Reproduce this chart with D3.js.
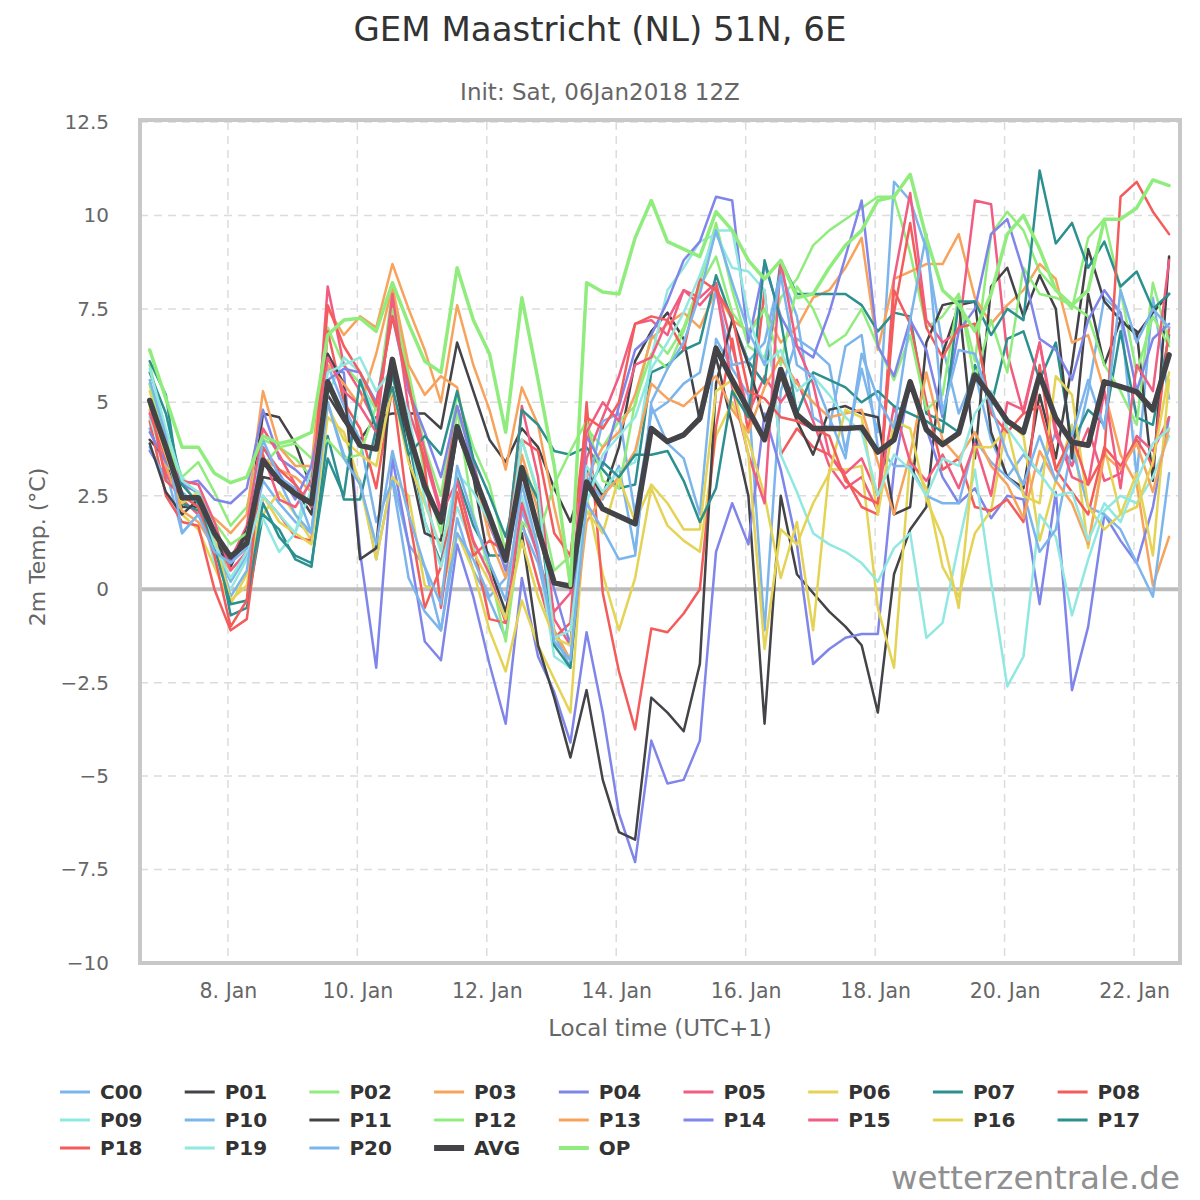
<!DOCTYPE html>
<html>
<head>
<meta charset="utf-8">
<script src="https://cdn.jsdelivr.net/npm/d3@7"></script>
<style>
  body { margin: 0; background: #fff; }
  text { font-family: "DejaVu Sans", sans-serif; }
</style>
</head>
<body>
<svg id="chart" width="1200" height="1200"></svg>
<script>
// GEM ensemble, 2m temperature, one value every 6 hours from 6 Jan 19:00 local
var c00 = [4.3, 3.2, 1.5, 2.0, 1.2, 0.2, 0.9, 2.9, 2.3, 1.8, 1.5, 5.0, 3.6, 2.9, 0.8, 3.0,
  1.2, 0.6, -1.1, 1.9, 0.5, -0.3, -1.3, 2.1, 0.9, -1.2, -2.1, 3.0, 2.4, 3.3, 1.0, 4.9,
  3.9, 3.5, 2.0, 6.7, 5.9, 5.2, -1.1, 5.3, 6.7, 6.4, 6.0, 3.7, 5.9, 4.2, 10.9, 10.4,
  9.1, 6.5, 4.7, 5.8, 4.0, 3.0, 3.6, 3.1, 4.2, 3.3, 5.3, 7.8, 7.4, 3.0, 7.8, 5.1];
var p01 = [4.0, 3.5, 2.2, 2.2, 1.2, 0.6, 1.5, 4.7, 4.6, 3.9, 2.7, 5.2, 4.5, 4.0, 4.6, 4.7,
  4.7, 4.7, 4.3, 6.6, 5.3, 4.0, 3.4, 4.3, 3.8, 2.7, 1.8, 3.2, 2.5, 3.8, 6.1, 6.9,
  7.4, 6.7, 4.5, 6.2, 4.4, 2.5, -3.6, 2.5, 0.4, -0.1, -0.6, -1.0, -1.5, -3.3, 0.4, 1.6,
  2.2, 6.3, 7.6, 7.7, 4.2, 3.0, 2.7, 5.2, 3.5, 6.0, 9.1, 7.7, 7.2, 6.9, 2.9, 8.9];
var p02 = [6.0, 4.2, 3.0, 3.4, 2.6, 1.7, 2.2, 4.0, 3.8, 3.5, 3.0, 7.0, 6.0, 5.5, 4.8, 8.0,
  5.8, 3.8, 2.5, 5.2, 3.8, 2.8, 1.0, 4.0, 2.5, 0.5, 0.9, 4.3, 3.8, 4.5, 4.9, 6.8,
  6.3, 7.0, 8.2, 9.8, 8.0, 6.5, 6.2, 7.8, 8.3, 9.2, 9.6, 9.9, 10.2, 10.5, 10.5, 9.0,
  7.0, 7.3, 7.9, 6.1, 9.5, 10.1, 9.6, 8.5, 8.0, 7.5, 9.4, 9.9, 8.0, 5.8, 7.3, 6.5];
var p03 = [5.5, 3.7, 2.9, 2.2, 1.9, 1.5, 2.0, 5.3, 3.8, 3.3, 3.3, 7.5, 6.8, 7.3, 7.0, 8.7,
  7.5, 6.4, 5.0, 7.6, 6.0, 4.8, 3.2, 5.4, 4.4, 2.2, 0.3, 3.0, 3.8, 4.2, 5.2, 6.7,
  7.1, 7.4, 7.0, 8.0, 7.2, 6.9, 7.5, 6.6, 7.0, 7.8, 8.0, 8.6, 9.4, 6.4, 8.3, 8.5,
  8.7, 8.7, 9.5, 7.8, 7.1, 7.6, 8.0, 8.7, 8.3, 6.6, 6.8, 5.3, 3.6, 2.8, 0.1, 1.4];
var p04 = [3.7, 3.0, 2.8, 2.9, 2.4, 2.3, 2.7, 4.8, 3.5, 3.2, 2.8, 5.9, 5.8, 1.0, -2.1, 3.5,
  1.2, -1.4, -1.9, 1.2, -0.2, -2.0, -3.6, 0.3, -1.8, -2.75, -4.1, -1.15, -3.3, -6.0, -7.3, -4.05,
  -5.2, -5.1, -4.05, 1.0, 2.3, 1.2, 4.7, 3.2, 1.2, -2.0, -1.6, -1.3, -1.2, -1.2, 3.2, 5.6,
  4.3, 3.0, 2.3, 2.7, 1.9, 2.5, 2.4, -0.4, 2.6, -2.7, -1.0, 2.0, 1.3, 0.7, 2.2, 4.6];
var p05 = [5.0, 3.1, 2.4, 2.0, 1.3, 0.8, 1.7, 4.3, 3.6, 2.8, 2.2, 8.1, 6.0, 5.3, 4.4, 7.7,
  5.4, 3.7, 2.1, 4.9, 3.4, 1.7, 0.7, 4.9, 3.0, -0.8, -1.5, 3.5, 4.6, 5.7, 7.1, 7.2,
  6.8, 8.0, 7.8, 8.2, 6.5, 4.7, 5.7, 5.0, 5.6, 4.5, 3.3, 2.7, 3.0, 2.1, 8.3, 10.6,
  7.2, 6.6, 6.9, 10.4, 10.3, 6.3, 4.7, 6.6, 4.1, 3.3, 4.3, 2.9, 3.1, 4.1, 3.7, 4.6];
var p06 = [5.3, 3.9, 2.0, 1.6, 0.6, -0.4, 0.4, 2.0, 2.6, 2.0, 1.3, 4.6, 4.2, 2.8, 0.8, 3.0,
  2.5, 0.1, -0.1, 1.5, 0.5, -1.1, -2.2, -0.3, -1.5, -2.4, -3.3, 2.5, 0.4, -1.1, 0.3, 2.7,
  1.7, 1.3, 1.0, 4.1, 5.0, 4.0, 2.5, 0.3, 1.8, -1.1, 3.2, 3.2, 3.3, -0.5, -2.1, 3.5,
  2.7, 0.6, -0.2, 1.5, 2.1, 4.5, 4.1, 1.3, 2.9, 4.4, 1.1, 3.8, 2.0, 3.1, 0.9, 5.6];
var p07 = [6.1, 5.2, 2.3, 2.1, 1.6, -0.7, -0.5, 2.0, 1.6, 0.8, 0.6, 4.1, 2.4, 2.4, 4.3, 5.7,
  4.0, 1.8, 0.7, 3.0, 1.7, 0.9, 0.9, 4.8, 4.4, 3.7, 3.6, 3.8, 3.2, 2.7, 2.8, 5.8,
  6.0, 6.4, 6.6, 8.4, 7.2, 6.1, 5.5, 8.8, 7.9, 7.9, 7.9, 7.9, 7.6, 6.9, 7.4, 7.3,
  4.7, 4.5, 4.2, 6.0, 4.9, 6.7, 6.9, 5.6, 6.6, 3.9, 4.8, 4.4, 6.9, 4.6, 4.4, 6.8];
var p08 = [4.5, 2.5, 1.8, 1.7, 0.0, -1.1, -0.8, 2.5, 2.0, 1.4, 1.3, 6.9, 5.0, 4.3, 2.7, 5.4,
  2.0, -0.5, 0.6, 2.9, 1.2, -0.8, -0.9, 1.8, 0.2, -1.3, -0.9, 5.0, -0.1, -2.2, -3.75, -1.05,
  -1.15, -0.65, 0.0, 4.35, 6.7, 4.2, 8.0, 3.6, 4.3, 3.8, 3.6, 3.0, 2.2, 2.0, 8.0, 7.1,
  5.0, 3.2, 3.5, 2.2, 2.1, 2.4, 1.8, 6.0, 3.2, 2.6, 2.0, 3.8, 3.3, 4.0, 3.3, 7.0];
var p09 = [4.6, 3.3, 3.0, 2.5, 0.7, 0.0, 0.8, 1.9, 1.0, 1.5, 3.3, 5.2, 6.2, 5.8, 4.4, 6.0,
  4.4, 1.8, 0.6, 2.2, 1.1, 0.7, -0.7, 2.5, 0.9, -1.8, -2.1, 3.3, 2.6, 3.2, 3.4, 6.2,
  8.0, 8.6, 9.3, 9.5, 8.6, 8.5, 8.0, 3.6, 2.6, 1.5, 1.2, 1.0, 0.7, 0.2, 1.1, 1.5,
  -1.3, -0.9, 1.2, 3.2, 0.2, -2.6, -1.8, 2.0, 1.4, -0.7, 0.8, 2.1, 2.5, 2.3, 3.0, 4.1];
var p10 = [3.8, 2.9, 2.6, 2.2, 1.5, -0.2, 0.5, 3.4, 2.9, 2.0, 1.5, 6.0, 4.9, 4.0, 1.8, 2.9,
  0.3, -0.6, -1.1, 1.5, 0.8, -0.2, 0.3, 1.7, 0.7, -1.1, -1.9, 2.6, 4.5, 4.7, 2.0, 4.7,
  5.0, 5.5, 5.8, 8.0, 6.0, 6.1, 6.6, 8.5, 7.3, 4.6, 4.3, 6.5, 6.8, 3.8, 3.3, 3.3,
  2.5, 2.3, 2.3, 4.0, 3.4, 3.0, 2.6, 1.0, 1.6, 3.8, 2.2, 2.0, 1.6, 0.7, -0.2, 3.1];
var p11 = [3.9, 2.6, 2.0, 2.4, 1.3, 0.7, 1.6, 3.0, 2.9, 2.7, 2.0, 6.3, 5.5, 0.8, 1.1, 6.0,
  3.5, 1.5, 1.3, 4.2, 3.0, 0.6, -0.6, 1.5, -1.5, -2.9, -4.5, -2.7, -5.1, -6.5, -6.7, -2.9,
  -3.3, -3.8, -2.0, 5.5, 7.2, 6.0, 4.5, 5.7, 4.5, 3.6, 4.8, 4.9, 4.7, 4.6, 2.0, 2.2,
  6.6, 7.6, 7.7, 3.5, 8.1, 8.6, 7.3, 8.4, 7.5, 3.5, 7.9, 6.0, 7.2, 6.8, 7.4, 7.9];
var p12 = [5.5, 4.0, 2.8, 2.6, 1.8, 1.2, 1.5, 3.3, 3.8, 3.9, 3.5, 4.0, 3.5, 3.6, 4.9, 7.5,
  5.7, 3.0, 1.5, 4.8, 2.0, 0.5, -1.4, 1.8, 1.4, 2.8, 3.7, 4.5, 2.9, 2.7, 5.0, 6.3,
  5.9, 6.9, 8.1, 8.9, 7.4, 6.8, 7.5, 6.0, 8.1, 7.5, 6.5, 6.8, 7.5, 6.5, 5.6, 6.8,
  4.8, 5.2, 7.9, 5.6, 7.2, 5.8, 8.6, 7.9, 7.8, 7.6, 7.3, 6.0, 5.3, 4.4, 8.2, 6.6];
var p13 = [4.8, 3.3, 2.1, 1.8, 1.1, 0.5, 1.0, 3.5, 3.2, 3.0, 2.6, 6.0, 5.5, 4.9, 6.3, 8.1,
  6.0, 5.2, 5.7, 5.4, 3.2, 1.4, 0.3, 3.6, 2.1, -1.1, -1.9, 1.8, 2.5, 3.0, 3.7, 5.5,
  5.1, 4.9, 5.3, 5.7, 4.8, 4.2, 5.4, 6.2, 5.5, 5.0, 4.6, 4.7, 4.8, 3.4, 2.0, 3.6,
  5.8, 4.0, 3.5, 4.2, 3.3, 2.8, 1.9, 3.7, 2.9, 2.3, 1.2, 3.6, 3.2, 3.9, 2.6, 4.3];
var p14 = [4.2, 3.4, 2.8, 2.6, 1.6, 0.7, 1.3, 3.8, 3.1, 2.4, 3.3, 5.6, 5.9, 5.8, 5.0, 7.3,
  5.3, 4.2, 3.0, 4.9, 3.3, 1.8, 0.5, 3.2, 1.5, 0.0, -1.5, 4.1, 3.3, 4.9, 6.4, 6.8,
  7.7, 8.8, 9.3, 10.5, 10.4, 6.6, 8.7, 7.3, 6.5, 6.2, 7.4, 8.9, 10.4, 6.5, 5.7, 7.2,
  6.4, 4.6, 6.9, 7.5, 9.5, 9.9, 8.5, 6.7, 6.4, 5.6, 7.2, 8.0, 7.4, 5.3, 6.7, 7.1];
var p15 = [4.7, 3.5, 2.9, 2.8, 1.8, 0.5, 1.0, 3.6, 2.4, 2.2, 2.9, 6.2, 5.3, 4.9, 4.2, 7.9,
  4.8, 3.5, 2.0, 2.9, 1.3, 0.4, -0.9, 2.3, 0.9, -0.6, -0.1, 4.2, 5.0, 4.5, 6.0, 6.2,
  7.2, 8.0, 7.6, 8.1, 5.4, 3.6, 2.3, 8.8, 6.5, 5.5, 3.6, 3.1, 3.5, 2.5, 4.9, 3.4,
  2.9, 3.6, 2.7, 3.9, 2.5, 5.0, 4.8, 6.6, 4.3, 3.0, 2.8, 5.3, 2.7, 6.0, 5.3, 8.8];
var p16 = [4.9, 3.6, 2.3, 2.6, 1.4, -0.3, 0.1, 2.5, 1.8, 1.5, 1.2, 4.9, 4.0, 3.6, 3.3, 5.4,
  3.4, 2.3, 1.1, 2.6, 1.0, 0.2, -0.8, 1.3, -0.2, -1.3, -1.5, 2.1, 1.5, 3.0, 1.8, 2.8,
  2.3, 1.6, 1.6, 5.3, 5.6, 3.6, -1.6, 1.6, 1.2, 2.3, 3.1, 4.8, 4.6, 2.0, 4.5, 4.3,
  2.4, 1.4, -0.5, 3.8, 3.8, 4.3, 2.5, 2.3, 5.7, 5.2, 2.2, 1.6, 2.0, 2.2, 3.4, 5.8];
var p17 = [5.8, 4.7, 2.8, 2.3, 1.1, -0.4, -0.3, 2.3, 1.4, 0.9, 0.7, 3.5, 2.5, 5.6, 4.3, 5.4,
  3.6, 4.1, 3.6, 5.3, 3.5, 2.5, 1.4, 3.3, 2.4, -1.5, -2.1, 2.6, 3.4, 3.0, 3.6, 3.6,
  3.7, 2.9, 1.8, 2.7, 5.3, 4.6, 8.8, 7.2, 4.7, 5.8, 5.6, 5.4, 5.0, 5.3, 4.9, 4.7,
  4.5, 4.2, 7.7, 7.7, 6.8, 7.5, 7.2, 11.2, 9.25, 9.8, 8.6, 9.3, 8.1, 8.5, 7.5, 7.9];
var p18 = [5.0, 2.9, 2.5, 2.2, 0.9, -1.0, -0.3, 3.8, 3.2, 2.8, 2.2, 7.6, 6.5, 5.8, 4.9, 7.3,
  5.5, 3.3, -0.5, 2.6, 0.9, 1.3, 1.0, 4.0, 3.7, 1.5, 0.9, 4.6, 4.3, 5.0, 7.1, 7.3,
  7.2, 6.4, 8.3, 8.0, 7.3, 5.3, 5.1, 4.6, 4.5, 4.3, 4.1, 2.9, 2.5, 2.3, 7.4, 9.8,
  7.0, 6.2, 7.0, 7.1, 4.7, 4.2, 4.7, 4.9, 3.2, 4.1, 2.8, 3.6, 10.5, 10.9, 10.1, 9.5];
var p19 = [5.9, 4.3, 2.9, 2.6, 1.2, 0.3, 1.0, 2.5, 2.0, 1.5, 2.7, 5.8, 6.0, 6.2, 5.3, 5.9,
  4.7, 2.4, 1.0, 3.1, 2.6, 1.8, 0.7, 4.0, 2.6, -1.3, -1.1, 2.3, 3.6, 4.1, 4.6, 5.9,
  6.6, 7.4, 8.4, 9.6, 9.6, 7.3, 6.0, 6.4, 5.3, 5.7, 5.2, 4.6, 4.2, 2.5, 3.6, 3.2,
  2.5, 3.5, 3.3, 4.7, 5.3, 4.3, 3.7, 3.1, 2.5, 2.6, 1.3, 2.3, 1.8, 2.9, 3.9, 4.3];
var p20 = [5.6, 4.1, 1.5, 2.0, 1.0, 0.7, 1.1, 4.0, 3.0, 2.7, 1.5, 5.0, 3.5, 2.8, 1.2, 3.7,
  2.0, 0.6, -0.4, 3.3, 1.9, 0.7, -0.3, 2.8, 1.1, -1.4, -1.9, 2.3, 1.6, 0.8, 0.9, 5.0,
  5.9, 6.6, 7.9, 9.6, 8.2, 6.9, 6.0, 8.4, 6.0, 5.7, 4.6, 3.5, 6.3, 5.1, 4.3, 7.2,
  9.5, 4.7, 6.4, 6.3, 4.9, 3.6, 2.8, 4.1, 2.9, 4.1, 5.6, 4.3, 8.0, 6.6, 7.5, 7.0];
var avg = [5.05, 3.8, 2.45, 2.45, 1.5, 0.87, 1.23, 3.45, 2.9, 2.55, 2.3, 5.55, 4.6, 3.85, 3.75, 6.15,
  4.2, 2.75, 1.8, 4.35, 3.1, 1.95, 0.78, 3.25, 1.6, 0.17, 0.08, 2.87, 2.15, 1.95, 1.75, 4.3,
  3.95, 4.13, 4.57, 6.45, 5.6, 4.8, 4.0, 5.88, 4.67, 4.3, 4.3, 4.3, 4.33, 3.67, 4.0, 5.55,
  4.27, 3.87, 4.17, 5.73, 5.15, 4.5, 4.2, 5.73, 4.57, 3.93, 3.85, 5.55, 5.42, 5.28, 4.8, 6.27];
var op = [6.4, 5.1, 3.8, 3.8, 3.1, 2.85, 3.0, 4.1, 3.9, 4.0, 4.2, 6.8, 7.2, 7.25, 6.9, 8.2,
  7.1, 6.1, 5.8, 8.6, 7.2, 6.3, 4.2, 7.8, 5.6, 3.3, 0.1, 8.2, 7.95, 7.9, 9.4, 10.4,
  9.3, 9.1, 8.9, 10.1, 9.6, 8.8, 8.3, 8.8, 7.8, 7.9, 8.6, 9.2, 9.6, 10.4, 10.5, 11.1,
  9.4, 8.0, 7.6, 6.9, 7.9, 9.5, 10.0, 9.1, 8.0, 7.6, 8.0, 9.9, 9.9, 10.2, 10.95, 10.8];

var seriesNames = ["C00", "P01", "P02", "P03", "P04", "P05", "P06", "P07", "P08", "P09",
  "P10", "P11", "P12", "P13", "P14", "P15", "P16", "P17", "P18", "P19", "P20", "AVG", "OP"];
var seriesValues = [c00, p01, p02, p03, p04, p05, p06, p07, p08, p09,
  p10, p11, p12, p13, p14, p15, p16, p17, p18, p19, p20, avg, op];
var palette = ["#7cb5ec", "#434348", "#90ed7d", "#f7a35c", "#8085e9",
  "#f15c80", "#e4d354", "#2b908f", "#f45b5b", "#91e8e1"];
var xTickDays = [8, 10, 12, 14, 16, 18, 20, 22];
var yTicks = [-10, -7.5, -5, -2.5, 0, 2.5, 5, 7.5, 10, 12.5];

var svg = d3.select("#chart");
var plotL = 140, plotR = 1180, plotT = 122, plotB = 963;

// first value is 6 Jan 18Z (19:00 local), then every 6 hours
var times = d3.range(64).map(function(i) { return new Date(2018, 0, 6, 19 + 6 * i); });

var x = d3.scaleTime()
  .domain([new Date(2018, 0, 6, 15, 24), new Date(2018, 0, 22, 17, 3)])
  .range([plotL, plotR]);
var y = d3.scaleLinear().domain([-10, 12.5]).range([plotB, plotT]);

// grid
var grid = svg.append("g");
grid.selectAll(".hg").data(yTicks).enter().append("line")
  .attr("x1", plotL).attr("x2", plotR)
  .attr("y1", function(d) { return y(d); }).attr("y2", function(d) { return y(d); })
  .attr("stroke", "#dcdcdc").attr("stroke-width", 1.5).attr("stroke-dasharray", "8,6");
var tickDates = xTickDays.map(function(d) { return new Date(2018, 0, d); });
grid.selectAll(".vg").data(tickDates).enter().append("line")
  .attr("x1", function(d) { return x(d); }).attr("x2", function(d) { return x(d); })
  .attr("y1", plotT).attr("y2", plotB)
  .attr("stroke", "#dcdcdc").attr("stroke-width", 1.5).attr("stroke-dasharray", "8,6");

// zero line
svg.append("line").attr("x1", plotL).attr("x2", plotR).attr("y1", y(0)).attr("y2", y(0))
  .attr("stroke", "#bcbcbc").attr("stroke-width", 4);

// axes
var yAxis = d3.axisLeft(y).tickValues(yTicks).tickSize(0).tickPadding(31)
  .tickFormat(d3.format(""));
var gy = svg.append("g").attr("transform", "translate(" + plotL + ",0)").call(yAxis);
gy.select(".domain").remove();
gy.selectAll("text").attr("font-size", 20).attr("fill", "#666").style("font-family", "DejaVu Sans");

var xAxis = d3.axisBottom(x).tickValues(tickDates).tickSize(0).tickPadding(20)
  .tickFormat(function(d) { return d.getDate() + ". Jan"; });
var gx = svg.append("g").attr("transform", "translate(0," + plotB + ")").call(xAxis);
gx.select(".domain").remove();
gx.selectAll("text").attr("font-size", 20.5).attr("fill", "#666").style("font-family", "DejaVu Sans");

// lines
svg.append("clipPath").attr("id", "plotclip").append("rect")
  .attr("x", plotL).attr("y", plotT - 2).attr("width", plotR - plotL).attr("height", plotB - plotT + 4);

var line = d3.line()
  .x(function(d, i) { return x(times[i]); })
  .y(function(d) { return y(d); });

var lines = svg.append("g").attr("clip-path", "url(#plotclip)");
seriesValues.forEach(function(vals, k) {
  var name = seriesNames[k];
  var col = name == "AVG" ? "#434348" : name == "OP" ? "#90ed7d" : palette[k % 10];
  var w = name == "AVG" ? 5.5 : name == "OP" ? 3.5 : 2.5;
  lines.append("path").datum(vals)
    .attr("d", line)
    .attr("fill", "none")
    .attr("stroke", col)
    .attr("stroke-width", w)
    .attr("stroke-linejoin", "round")
    .attr("stroke-linecap", "round");
});

// plot frame
svg.append("rect").attr("x", plotL).attr("y", plotT - 2).attr("width", plotR - plotL).attr("height", plotB - plotT + 2)
  .attr("fill", "none").attr("stroke", "#c8c8c8").attr("stroke-width", 4);

// titles
svg.append("text").attr("x", 600).attr("y", 41).attr("text-anchor", "middle")
  .attr("font-size", 34).attr("fill", "#333").text("GEM Maastricht (NL) 51N, 6E");
svg.append("text").attr("x", 600).attr("y", 100).attr("text-anchor", "middle")
  .attr("font-size", 23).attr("fill", "#666").text("Init: Sat, 06Jan2018 12Z");
svg.append("text").attr("transform", "translate(45,547) rotate(-90)").attr("text-anchor", "middle")
  .attr("font-size", 22).attr("fill", "#666").text("2m Temp. (°C)");
svg.append("text").attr("x", 660).attr("y", 1036).attr("text-anchor", "middle")
  .attr("font-size", 23).attr("fill", "#666").text("Local time (UTC+1)");

// legend
var legend = svg.append("g");
seriesNames.forEach(function(name, k) {
  var col = k % 9, row = Math.floor(k / 9);
  var lx = 60 + col * 124.7, ly = 1092 + row * 28;
  var c = name == "AVG" ? "#434348" : name == "OP" ? "#90ed7d" : palette[k % 10];
  legend.append("line").attr("x1", lx).attr("x2", lx + 30).attr("y1", ly).attr("y2", ly)
    .attr("stroke", c).attr("stroke-width", name == "AVG" ? 6 : name == "OP" ? 4 : 3);
  legend.append("text").attr("x", lx + 40).attr("y", ly + 7)
    .attr("font-size", 20).attr("font-weight", "bold").attr("fill", "#333").text(name);
});

svg.append("text").attr("x", 1180).attr("y", 1189).attr("text-anchor", "end")
  .attr("font-size", 32.5).attr("fill", "#909090").text("wetterzentrale.de");
</script>
</body>
</html>
